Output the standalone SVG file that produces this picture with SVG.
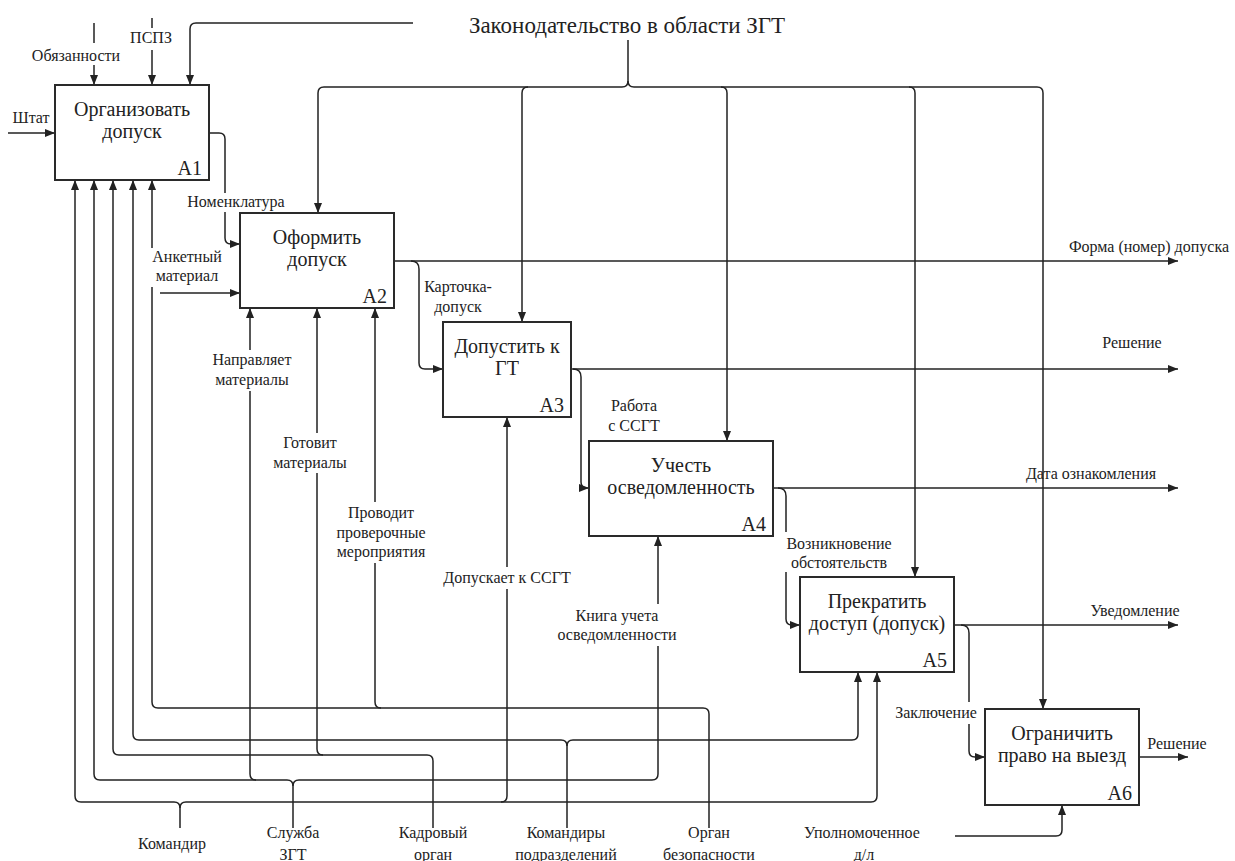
<svg xmlns="http://www.w3.org/2000/svg" width="1235" height="861" viewBox="0 0 1235 861">
<style>
.box{fill:#fff;stroke:#2a2a2a;stroke-width:2}
.ln{fill:none;stroke:#222;stroke-width:1.5;marker-end:url(#ah)}
text{fill:#222}
.bt{font-size:20px;text-anchor:middle}
.id{font-size:20px;text-anchor:end}
.lb{font-size:16px;text-anchor:middle}
.ttl{font-size:23px;text-anchor:middle}
.bg{fill:#fff}
</style>
<defs>
<marker id="ah" markerUnits="userSpaceOnUse" viewBox="0 0 10 8" refX="10" refY="4" markerWidth="10" markerHeight="8" orient="auto">
<path d="M0,0 L10,4 L0,8 z" fill="#222"/>
</marker>
</defs>
<rect width="1235" height="861" fill="#fff"/>
<g id="connectors">
<path class="ln" d="M413,23 L196,23 Q190,23 190,29 L190,85"/>
<path class="ln" d="M94,23 L94,85"/>
<path class="ln" d="M152,18 L152,85"/>
<path class="ln" d="M8,133 L55,133"/>
<path class="ln" d="M628,40 L628,81 Q628,87 622,87 L324,87 Q318,87 318,93 L318,213"/>
<path class="ln" d="M628,81 Q628,87 634,87 L1037,87 Q1043,87 1043,93 L1043,709"/>
<path class="ln" d="M528,87 Q522,87 522,93 L522,322"/>
<path class="ln" d="M721,87 Q727,87 727,93 L727,441"/>
<path class="ln" d="M909,87 Q915,87 915,93 L915,577"/>
<path class="ln" d="M209,133 L219,133 Q225,133 225,139 L225,238 Q225,244 231,244 L240,244"/>
<path class="ln" d="M160,293 L240,293"/>
<path class="ln" d="M394,261 L1178,261"/>
<path class="ln" d="M411,261 Q419,261 419,269 L419,363 Q419,369 425,369 L443,369"/>
<path class="ln" d="M571,369 L1178,369"/>
<path class="ln" d="M573,369 Q581,369 581,377 L581,482 Q581,488 587,488 L589,488"/>
<path class="ln" d="M773,488 L1178,488"/>
<path class="ln" d="M778,488 Q786,488 786,496 L786,619 Q786,625 792,625 L800,625"/>
<path class="ln" d="M954,625 L1178,625"/>
<path class="ln" d="M961,625 Q969,625 969,633 L969,751 Q969,757 975,757 L985,757"/>
<path class="ln" d="M1139,757 L1188,757"/>
<path class="ln" d="M180,828 L180,808 Q180,802 174,802 L81,802 Q75,802 75,796 L75,180"/>
<path class="ln" d="M180,808 Q180,802 186,802 L871,802 Q877,802 877,796 L877,672"/>
<path class="ln" d="M501,802 Q507,802 507,796 L507,417"/>
<path class="ln" d="M293,828 L293,786 Q293,780 287,780 L100,780 Q94,780 94,774 L94,180"/>
<path class="ln" d="M293,786 Q293,780 299,780 L652,780 Q658,780 658,774 L658,536"/>
<path class="ln" d="M256,780 Q250,780 250,774 L250,308"/>
<path class="ln" d="M433,828 L433,761 Q433,755 427,755 L119,755 Q113,755 113,749 L113,180"/>
<path class="ln" d="M323,755 Q317,755 317,749 L317,308"/>
<path class="ln" d="M567,828 L567,746 Q567,740 561,740 L139,740 Q133,740 133,734 L133,180"/>
<path class="ln" d="M567,746 Q567,740 573,740 L852,740 Q858,740 858,734 L858,672"/>
<path class="ln" d="M709,828 L709,714 Q709,708 703,708 L158,708 Q152,708 152,702 L152,180"/>
<path class="ln" d="M381,708 Q375,708 375,702 L375,308"/>
<path class="ln" d="M955,836 L1056,836 Q1062,836 1062,830 L1062,805"/>
</g>
<g id="labels" font-family="Liberation Serif, Tinos, Times New Roman, Times, Noto Serif, DejaVu Serif, FreeSerif, serif">
<rect class="bg" x="30" y="43" width="92" height="22"/>
<rect class="bg" x="128" y="28" width="46" height="22"/>
<rect class="bg" x="183" y="193" width="106" height="19"/>
<rect class="bg" x="148" y="248" width="78" height="39"/>
<rect class="bg" x="210" y="350" width="85" height="41"/>
<rect class="bg" x="270" y="433" width="80" height="40"/>
<rect class="bg" x="333" y="502" width="97" height="61"/>
<rect class="bg" x="451" y="567" width="112" height="22"/>
<rect class="bg" x="553" y="604" width="129" height="42"/>
<rect class="bg" x="782" y="532" width="114" height="40"/>
<rect class="bg" x="890" y="702" width="92" height="22"/>
<text class="ttl" x="627" y="33">Законодательство в области ЗГТ</text>
<text class="lb" x="76" y="61">Обязанности</text>
<text class="lb" x="151" y="43">ПСПЗ</text>
<text class="lb" x="31" y="123">Штат</text>
<text class="lb" x="236" y="207">Номенклатура</text>
<text class="lb" x="187" y="262">Анкетный</text>
<text class="lb" x="187" y="281">материал</text>
<text class="lb" x="458" y="292">Карточка-</text>
<text class="lb" x="458" y="312">допуск</text>
<text class="lb" x="634" y="411">Работа</text>
<text class="lb" x="634" y="431">с ССГТ</text>
<text class="lb" x="839" y="549">Возникновение</text>
<text class="lb" x="839" y="568">обстоятельств</text>
<text class="lb" x="936" y="718">Заключение</text>
<text class="lb" x="1149" y="252">Форма (номер) допуска</text>
<text class="lb" x="1132" y="348">Решение</text>
<text class="lb" x="1091" y="479">Дата ознакомления</text>
<text class="lb" x="1135" y="616">Уведомление</text>
<text class="lb" x="1177" y="749">Решение</text>
<text class="lb" x="252" y="365">Направляет</text>
<text class="lb" x="252" y="385">материалы</text>
<text class="lb" x="310" y="448">Готовит</text>
<text class="lb" x="310" y="468">материалы</text>
<text class="lb" x="381" y="518">Проводит</text>
<text class="lb" x="381" y="538">проверочные</text>
<text class="lb" x="381" y="557">мероприятия</text>
<text class="lb" x="507" y="583">Допускает к ССГТ</text>
<text class="lb" x="617" y="621">Книга учета</text>
<text class="lb" x="617" y="640">осведомленности</text>
<text class="lb" x="172" y="849">Командир</text>
<text class="lb" x="293" y="838">Служба</text>
<text class="lb" x="293" y="860">ЗГТ</text>
<text class="lb" x="433" y="838">Кадровый</text>
<text class="lb" x="433" y="860">орган</text>
<text class="lb" x="566" y="838">Командиры</text>
<text class="lb" x="566" y="860">подразделений</text>
<text class="lb" x="709" y="838">Орган</text>
<text class="lb" x="709" y="860">безопасности</text>
<text class="lb" x="862" y="838">Уполномоченное</text>
<text class="lb" x="864" y="860">д/л</text>
</g>
<g id="nodes" font-family="Liberation Serif, Tinos, Times New Roman, Times, Noto Serif, DejaVu Serif, FreeSerif, serif">
<g id="A1">
<rect class="box" x="55" y="85" width="154" height="95"/>
<text class="bt" x="132" y="116">Организовать</text>
<text class="bt" x="132" y="138">допуск</text>
<text class="id" x="202" y="175">A1</text>
</g>
<g id="A2">
<rect class="box" x="240" y="213" width="154" height="95"/>
<text class="bt" x="317" y="244">Оформить</text>
<text class="bt" x="317" y="266">допуск</text>
<text class="id" x="387" y="303">A2</text>
</g>
<g id="A3">
<rect class="box" x="443" y="322" width="128" height="95"/>
<text class="bt" x="507" y="353">Допустить к</text>
<text class="bt" x="507" y="375">ГТ</text>
<text class="id" x="564" y="412">A3</text>
</g>
<g id="A4">
<rect class="box" x="589" y="441" width="184" height="95"/>
<text class="bt" x="681" y="472">Учесть</text>
<text class="bt" x="681" y="494">осведомленность</text>
<text class="id" x="766" y="531">A4</text>
</g>
<g id="A5">
<rect class="box" x="800" y="577" width="154" height="95"/>
<text class="bt" x="877" y="608">Прекратить</text>
<text class="bt" x="877" y="630">доступ (допуск)</text>
<text class="id" x="947" y="667">A5</text>
</g>
<g id="A6">
<rect class="box" x="985" y="709" width="154" height="96"/>
<text class="bt" x="1062" y="740">Ограничить</text>
<text class="bt" x="1062" y="762">право на выезд</text>
<text class="id" x="1132" y="800">A6</text>
</g>
</g>
</svg>
